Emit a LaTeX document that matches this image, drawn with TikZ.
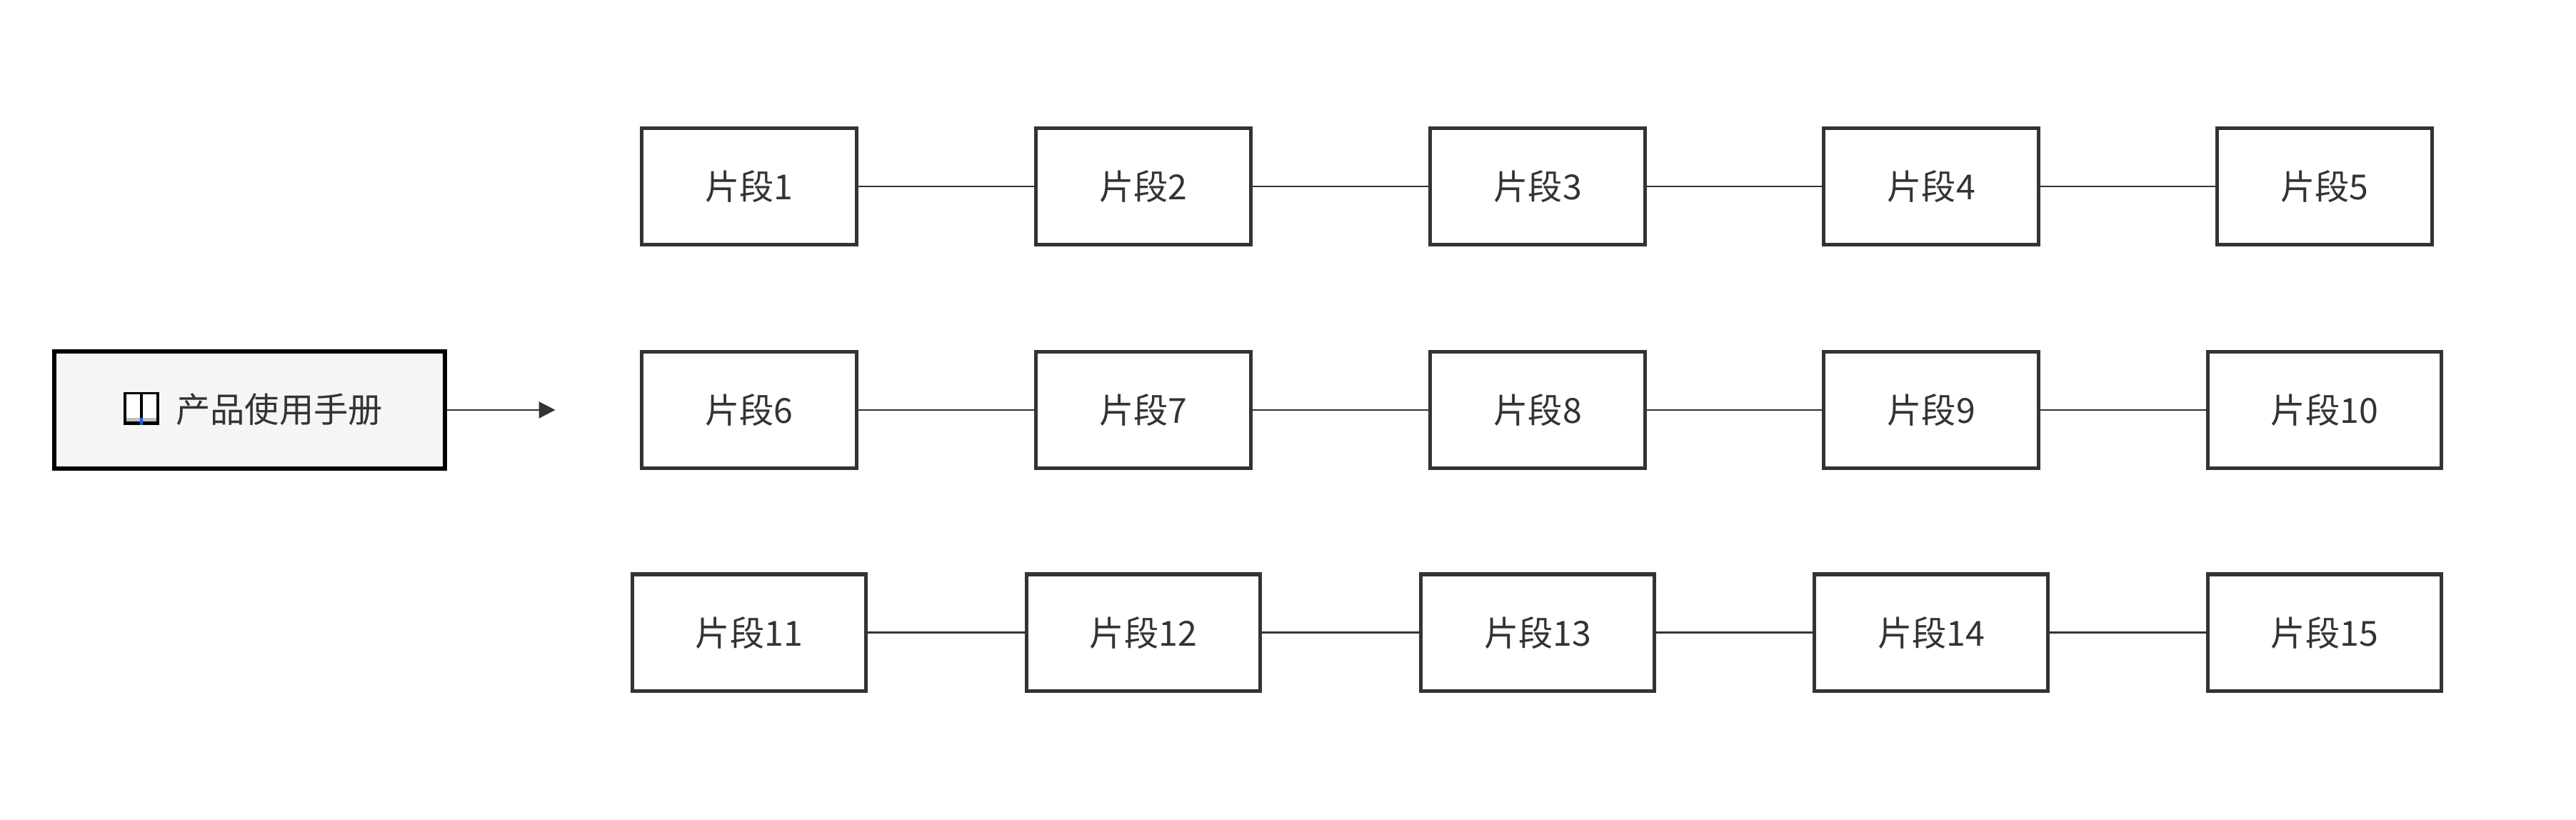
\documentclass[tikz,border=0pt]{standalone}
\usepackage{fontspec}
\setmainfont{Noto Sans CJK SC}
\usetikzlibrary{arrows.meta}
\definecolor{ink}{HTML}{333333}
\begin{document}
\begin{tikzpicture}[x=0.5pt,y=-0.5pt,
  seg/.style={draw=ink,line width=1.1pt,fill=white,text=ink,inner sep=0pt,font=\fontsize{10.5}{12}\selectfont},
  lnk/.style={draw=ink,line width=0.6pt}]
\useasboundingbox (0,0) rectangle (1568,499);
\node[draw=black,line width=1.3pt,fill=black!4,minimum width=119pt,minimum height=35.5pt,inner sep=0pt] (m) at (152,249.5) {};
\node[text=ink,font=\fontsize{10.5}{12}\selectfont,anchor=west] (mt) at (100,249) {产品使用手册};
\begin{scope}[shift={(86,248.5)}]
\fill[black] (-11,-10) rectangle (11,10);
\fill[white] (-9,-8.5) rectangle (-1,6);
\fill[white] (1,-8.5) rectangle (9,6);
\fill[black!25] (-9,6) rectangle (9,8);
\fill[blue!60!cyan] (-1,6) rectangle (1,10);
\end{scope}
\coordinate (a) at (338,249.5);
\draw[lnk,-{Triangle[length=5pt,width=5pt]}] (m.east) -- (a);
\foreach \r/\y in {0/113.5,1/249.5,2/385}{
 \foreach \c/\x in {0/456,1/696,2/936,3/1175.5,4/1415}{
  \pgfmathtruncatemacro{\n}{\r*5+\c+1}
  \pgfmathsetmacro{\w}{(\n>9 ? 71 : 65.5)}
  \node[seg,minimum width=\w pt,minimum height=35.5pt] (s\n) at (\x,\y) {片段\n};
 }}
\foreach \a/\b in {1/2,2/3,3/4,4/5,6/7,7/8,8/9,9/10,11/12,12/13,13/14,14/15}
 \draw[lnk] (s\a) -- (s\b);
\end{tikzpicture}
\end{document}
